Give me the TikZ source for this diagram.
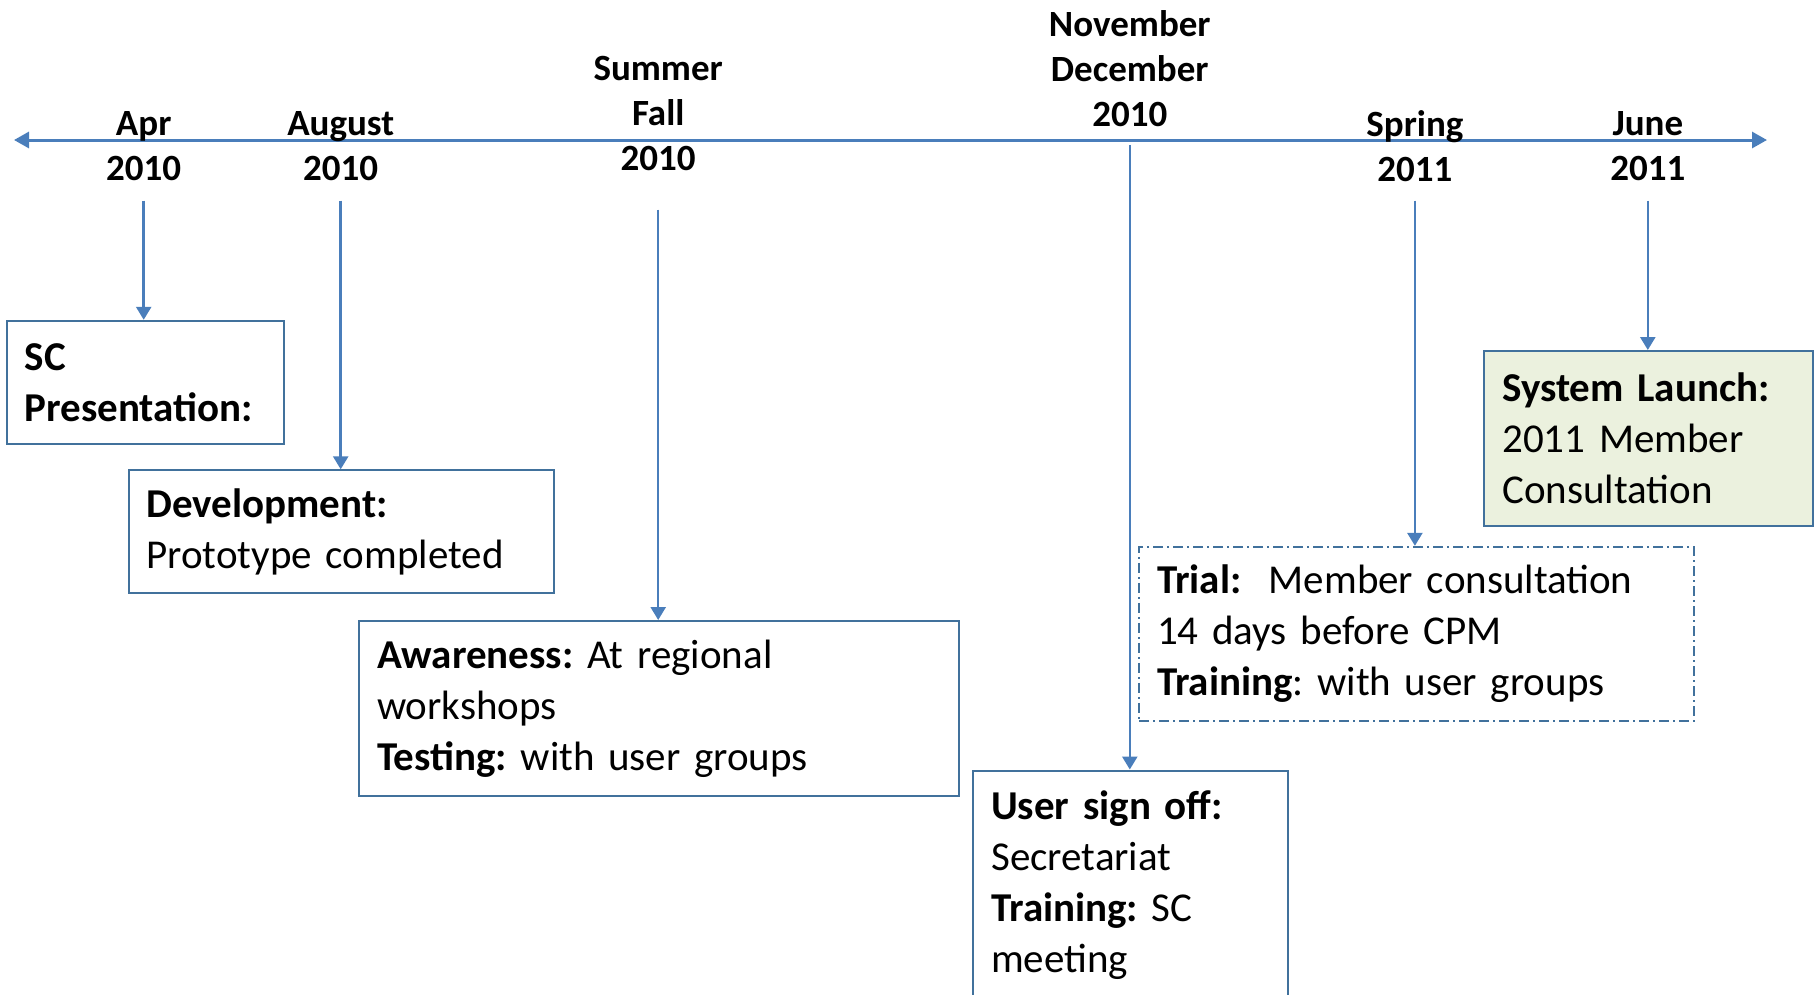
\documentclass[tikz,border=0pt]{standalone}
\usepackage{fontspec}
\setmainfont{Carlito}
\usetikzlibrary{arrows.meta}
\definecolor{linec}{HTML}{4A7EBB}
\definecolor{boxc}{HTML}{41719C}
\definecolor{greenf}{HTML}{EBF1DE}
\frenchspacing
\begin{document}
\begin{tikzpicture}[x=1pt,y=-1pt,
  datelab/.style={font=\fontsize{37}{45}\selectfont\bfseries, align=center, inner sep=0pt},
  tbox/.style={draw=boxc, line width=2pt, anchor=north west, inner xsep=18pt, inner ysep=0pt,
               align=left, font=\fontsize{41}{51}\selectfont},
  arr/.style={draw=linec, line width=2.5pt, -{Triangle[width=15pt,length=13pt]}},
  tline/.style={draw=linec, line width=3pt, {Triangle[width=16pt,length=15pt]}-{Triangle[width=16pt,length=15pt]}},
  dashdot/.style={dash pattern=on 10pt off 4pt on 2pt off 4pt}
]
\useasboundingbox (0,0) rectangle (1817,994);
\clip (0,0) rectangle (1817,994);

% timeline
\coordinate (tl) at (14,140);
\coordinate (tr) at (1767,140);
\draw[tline] (tl) -- (tr);

% date labels
\node[datelab] (apr) at (143.7,146.2) {Apr\\2010};
\node[datelab] (aug) at (340.7,146.2) {August\\2010};
\node[datelab] (sum) at (658.2,113.4) {Summer\\Fall\\2010};
\node[datelab] (nov) at (1129.8,68.4) {November\\December\\2010};
\node[datelab] (spr) at (1414.9,146.2) {Spring\\2011};
\node[datelab] (jun) at (1647.8,146.2) {June\\2011};

% boxes
\node[tbox, minimum width=277pt, minimum height=123pt, text width=241pt] (sc) at (5.8,319.8)
  {\textbf{SC}\\\textbf{Presentation:}};
\node[tbox, minimum width=425pt, minimum height=123pt, text width=389pt] (dev) at (127.5,469.3)
  {\textbf{Development:}\\Prototype completed};
\node[tbox, minimum width=600pt, minimum height=175pt, text width=564pt] (awa) at (358,620)
  {\textbf{Awareness:} At regional\\workshops\\\textbf{Testing:} with user groups};
\node[tbox, minimum width=315pt, minimum height=229pt, text width=279pt] (usr) at (972.2,769.5)
  {\textbf{User sign off:}\\Secretariat\\\textbf{Training:} SC\\meeting};
\node[tbox, dashdot, minimum width=555pt, minimum height=174pt, text width=519pt] (tri) at (1138,545.8)
  {\textbf{Trial:}\ \ Member consultation\\14 days before CPM\\\textbf{Training}: with user groups};
\node[tbox, fill=greenf, minimum width=329pt, minimum height=175pt, text width=293pt] (sys) at (1483.3,350)
  {\textbf{System Launch:}\\2011 Member\\Consultation};

% arrow starts
\coordinate (aprs) at (143.7,200.5);
\coordinate (augs) at (340.7,200.5);
\coordinate (sums) at (658.2,209.7);
\coordinate (novs) at (1129.8,144.8);
\coordinate (sprs) at (1414.9,200.5);
\coordinate (juns) at (1647.8,200.5);

\draw[arr] (aprs) -- (aprs |- sc.north);
\draw[arr] (augs) -- (augs |- dev.north);
\draw[arr] (sums) -- (sums |- awa.north);
\draw[arr] (novs) -- (novs |- usr.north);
\draw[arr] (sprs) -- (sprs |- tri.north);
\draw[arr] (juns) -- (juns |- sys.north);
\end{tikzpicture}
\end{document}
